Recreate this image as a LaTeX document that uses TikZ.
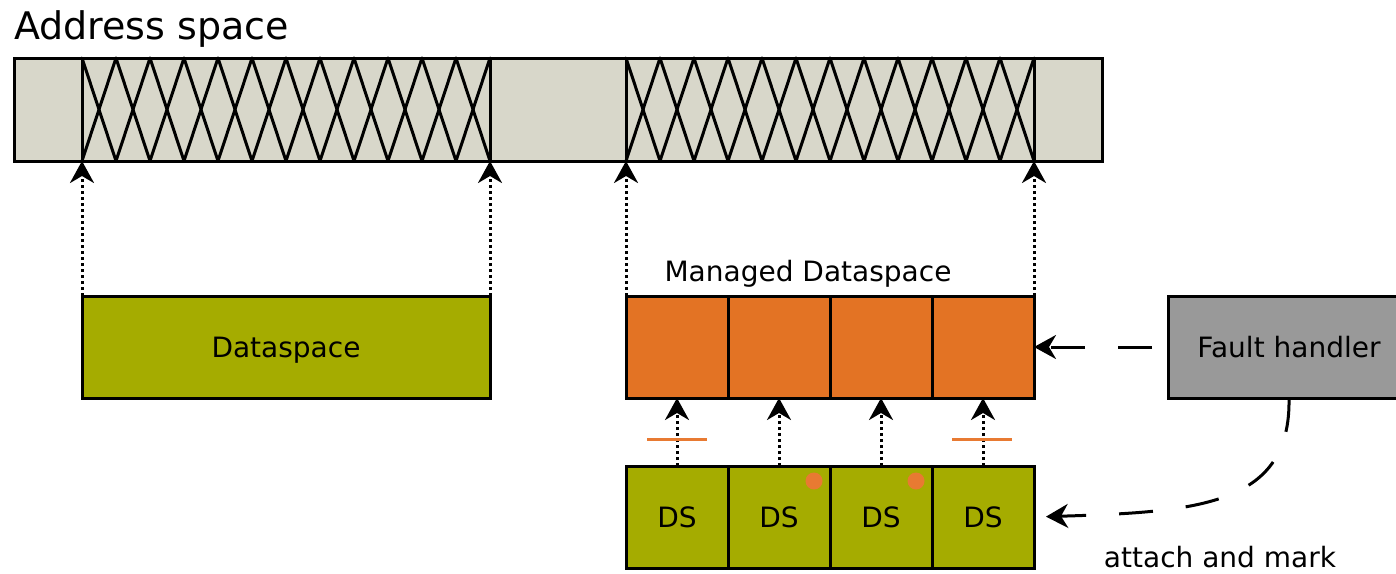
\documentclass[tikz,border=0pt]{standalone}
\usepackage{fontspec}
\setmainfont{DejaVu Sans}
\usetikzlibrary{arrows.meta,calc}
\definecolor{addrfill}{RGB}{216,215,202}
\definecolor{dsgreen}{RGB}{165,172,0}
\definecolor{mgorange}{RGB}{227,115,36}
\definecolor{fhgray}{RGB}{153,153,153}
\definecolor{markorange}{RGB}{232,122,50}
\begin{document}
\begin{tikzpicture}[x=1pt,y=-1pt,
  box/.style={draw=black, line width=3pt, inner sep=0pt, outer sep=0pt,
    font=\fontsize{28}{34}\selectfont, text height=20pt, text depth=0pt},
  cell/.style={box, minimum width=102pt, minimum height=102pt},
  hatch/.style={line width=3pt, line cap=round},
  tip/.style={-{Stealth[length=22pt,width=24pt,inset=7pt]}},
  dotarrow/.style={tip, line width=3pt, dash pattern=on 3pt off 3pt},
  dasharrow/.style={tip, line width=3pt},
  lbl/.style={inner sep=0pt, font=\fontsize{28}{34}\selectfont},
  obar/.style={draw=markorange, line width=3pt},
  odot/.style={fill=markorange}
]
\useasboundingbox (0,0) rectangle (1396,573);

% Address space
\node[lbl, anchor=base west, font=\fontsize{38}{44}\selectfont] (title) at (14,39) {Address space};
\node[box, fill=addrfill, minimum width=1088pt, minimum height=103pt] (as) at (558,109.5) {};
\node[box, minimum width=408pt, minimum height=103pt] (h1) at (286,109.5) {};
\node[box, minimum width=408pt, minimum height=103pt] (h2) at (830,109.5) {};
\foreach \h in {h1,h2}{
  \foreach \i in {0,...,11}{
    \draw[hatch] ($(\h.north west)+(\i*34,0)$) -- ($(\h.south west)+(\i*34+34,0)$);
    \draw[hatch] ($(\h.south west)+(\i*34,0)$) -- ($(\h.north west)+(\i*34+34,0)$);
  }
}

% Dataspace
\node[box, fill=dsgreen, minimum width=408pt, minimum height=102pt] (ds) at (286,347) {Dataspace};

% Managed dataspace
\node[lbl, anchor=base] (mlabel) at (808,281) {Managed Dataspace};
\foreach \n/\x in {1/677,2/779,3/881,4/983}{
  \node[cell, fill=mgorange] (m\n) at (\x,347) {};
  \node[cell, fill=dsgreen] (d\n) at (\x,517) {DS};
  \draw[dotarrow] (d\n.north) -- (m\n.south);
}

% mapping arrows
\draw[dotarrow] (ds.north west) -- (ds.north west |- as.south);
\draw[dotarrow] (ds.north east) -- (ds.north east |- as.south);
\draw[dotarrow] (m1.north west) -- (m1.north west |- as.south);
\draw[dotarrow] (m4.north east) -- (m4.north east |- as.south);

% marks
\draw[obar] (647,439) -- (707,439);
\draw[obar] (952,439) -- (1012,439);
\fill[odot] (814,481) circle[radius=8.5pt];
\fill[odot] (916,481) circle[radius=8.5pt];

% Fault handler
\node[box, fill=fhgray, minimum width=242pt, minimum height=102pt] (fh) at (1289,347) {Fault handler};
\draw[dasharrow, dash pattern=on 34pt off 33pt, dash phase=51pt] (fh.west) -- (m4.east);
\draw[dasharrow, dash pattern=on 34pt off 33pt, shorten >=12pt]
  (fh.south) .. controls (1291,505) and (1200,512) .. (d4.east);
\node[lbl, anchor=base] (am) at (1220,567) {attach and mark};
\end{tikzpicture}
\end{document}
